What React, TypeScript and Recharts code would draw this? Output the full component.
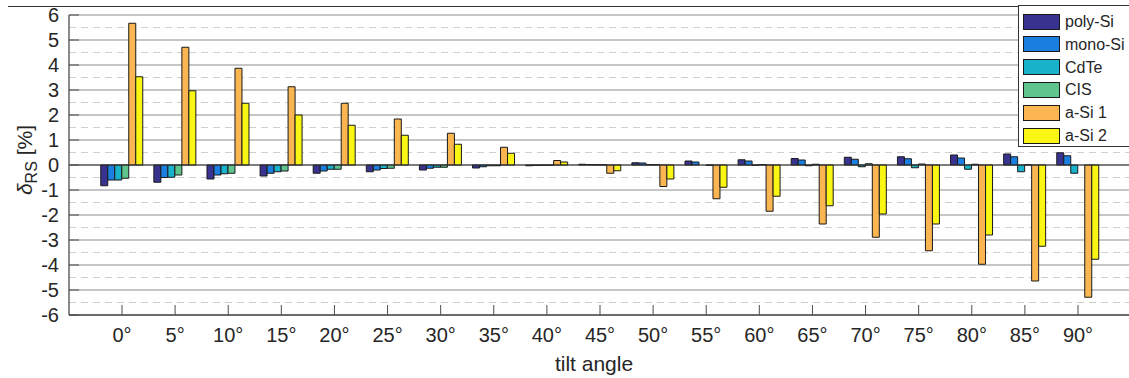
import { BarChart, Bar, XAxis, YAxis, CartesianGrid, ReferenceLine, Label } from 'recharts';

const angles = ['0°', '5°', '10°', '15°', '20°', '25°', '30°', '35°', '40°', '45°', '50°', '55°', '60°', '65°', '70°', '75°', '80°', '85°', '90°'];

const polySi = [-0.83, -0.69, -0.56, -0.44, -0.33, -0.27, -0.2, -0.12, -0.03, 0.03, 0.09, 0.16, 0.21, 0.26, 0.31, 0.33, 0.4, 0.44, 0.49];
const monoSi = [-0.6, -0.5, -0.4, -0.33, -0.24, -0.2, -0.13, -0.07, -0.02, 0.02, 0.08, 0.12, 0.16, 0.2, 0.23, 0.25, 0.28, 0.33, 0.37];
const cdTe = [-0.6, -0.49, -0.35, -0.27, -0.17, -0.14, -0.09, -0.03, -0.01, 0.01, 0.02, 0.0, -0.01, -0.03, -0.07, -0.11, -0.17, -0.27, -0.33];
const cis = [-0.53, -0.4, -0.33, -0.24, -0.17, -0.13, -0.09, -0.03, -0.01, 0.01, 0.01, -0.01, 0.02, 0.03, 0.05, 0.04, 0.03, 0.01, 0.0];
const aSi1 = [5.67, 4.71, 3.87, 3.13, 2.47, 1.84, 1.27, 0.71, 0.18, -0.33, -0.86, -1.35, -1.85, -2.36, -2.89, -3.43, -3.97, -4.64, -5.29];
const aSi2 = [3.53, 2.97, 2.47, 2.0, 1.59, 1.19, 0.83, 0.47, 0.12, -0.23, -0.56, -0.89, -1.25, -1.63, -1.96, -2.36, -2.8, -3.25, -3.77];

const seriesNames = ['poly-Si', 'mono-Si', 'CdTe', 'CIS', 'a-Si 1', 'a-Si 2'];
const seriesColors = ['#38338f', '#1a7fe0', '#18b2ca', '#5fc48e', '#fbb651', '#f9f614'];
const seriesValues = [polySi, monoSi, cdTe, cis, aSi1, aSi2];

const yTicks = [-6, -5, -4, -3, -2, -1, 0, 1, 2, 3, 4, 5, 6];
const yHalfTicks = [-5.5, -4.5, -3.5, -2.5, -1.5, -0.5, 0.5, 1.5, 2.5, 3.5, 4.5, 5.5];

const data = angles.map((angle, i) => {
  const row: Record<string, string | number> = { angle };
  seriesValues.forEach((vals, s) => { row['s' + s] = vals[i]; });
  return row;
});

const font = '"Liberation Sans", Arial, sans-serif';
const axisColor = '#4d4d4d';
const pad = { left: 26.44, right: 26.44 };

const App = () => {
  return (
    <div style={{ position: 'absolute', left: 0, top: 0, width: 1129, height: 378, overflow: 'hidden', background: '#fff', fontFamily: font }}>
      <div style={{ position: 'absolute', left: 8, top: 6, width: 1130, borderTop: '1px solid #333' }} />
      <BarChart
        width={1160}
        height={378}
        data={data}
        margin={{ top: 15, right: 29, bottom: 13, left: 0 }}
        barCategoryGap="10%"
        barGap={0}
      >
        <CartesianGrid vertical={false} stroke="#cfcfcf" strokeDasharray="7 5" horizontalValues={yHalfTicks} />
        <CartesianGrid vertical={false} stroke="#b3b3b3" strokeWidth={1.3} />
        <XAxis
          xAxisId="top"
          orientation="top"
          dataKey="angle"
          height={0}
          padding={pad}
          interval={0}
          tick={false}
          tickSize={-10}
          axisLine={{ stroke: axisColor, strokeWidth: 1.3 }}
          tickLine={{ stroke: axisColor }}
        />
        <XAxis
          dataKey="angle"
          height={50}
          padding={pad}
          interval={0}
          tickSize={-10}
          tickMargin={23}
          axisLine={{ stroke: axisColor, strokeWidth: 1.3 }}
          tickLine={{ stroke: axisColor }}
          tick={{ fontSize: 20, fill: '#262626', fontFamily: font }}
        >
          <Label
            content={() => (
              <text x={594} y={371} textAnchor="middle" fontSize={21} fill="#262626" fontFamily={font}>
                tilt angle
              </text>
            )}
          />
        </XAxis>
        <YAxis
          type="number"
          domain={[-6, 6]}
          ticks={yTicks}
          interval={0}
          width={69}
          tickSize={-10}
          tickMargin={20}
          allowDataOverflow
          axisLine={{ stroke: axisColor, strokeWidth: 1.3 }}
          tickLine={{ stroke: axisColor }}
          tick={{ fontSize: 20, fill: '#262626', fontFamily: font }}
        >
          <Label
            content={() => (
              <text transform="translate(32,160) rotate(-90)" textAnchor="middle" fontSize={21} fill="#262626" fontFamily={font}>
                <tspan fontStyle="italic">δ</tspan>
                <tspan dy={5} fontSize={16}>RS</tspan>
                <tspan dy={-5}> [%]</tspan>
              </text>
            )}
          />
        </YAxis>
        <ReferenceLine y={0} stroke="#333" strokeWidth={1.2} />
        {seriesNames.map((name, s) => (
          <Bar
            key={name}
            dataKey={'s' + s}
            name={name}
            fill={seriesColors[s]}
            stroke="#1a1a1a"
            strokeWidth={1}
            isAnimationActive={false}
          />
        ))}
      </BarChart>
      <div
        style={{
          position: 'absolute',
          left: 1018,
          top: 5,
          width: 130,
          height: 142,
          border: '1px solid #333',
          background: '#fff',
          boxSizing: 'border-box',
        }}
      >
        {seriesNames.map((name, s) => (
          <div key={name} style={{ position: 'absolute', left: 4, top: 7 + s * 22.8, display: 'flex', alignItems: 'center', height: 17 }}>
            <span style={{ display: 'inline-block', width: 37, height: 16, background: seriesColors[s], border: '1px solid #1a1a1a', boxSizing: 'border-box' }} />
            <span style={{ marginLeft: 5, fontSize: 16, color: '#262626', lineHeight: '17px' }}>{name}</span>
          </div>
        ))}
      </div>
    </div>
  );
};

export default App;
